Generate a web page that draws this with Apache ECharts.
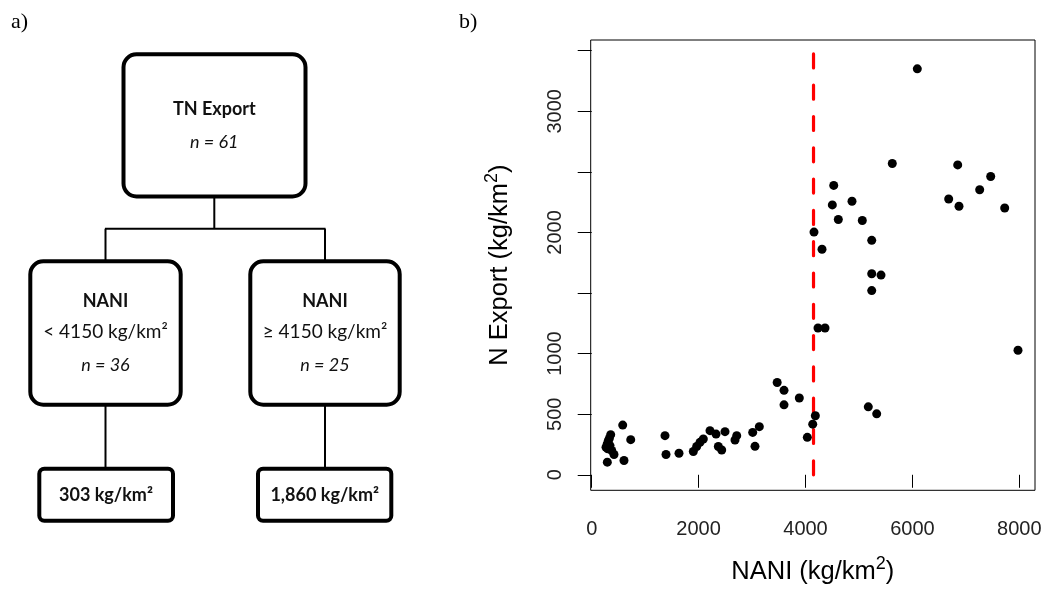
<!DOCTYPE html>
<html><head><meta charset="utf-8">
<script src="https://cdn.jsdelivr.net/npm/echarts@6/dist/echarts.min.js"></script>
<style>html,body{margin:0;padding:0;background:#fff}#c{width:1045px;height:590px}</style>
</head><body><div id="c"></div>
<script>
// ---- data (panel b scatter) ----
const naniValues = [
  355, 330, 311, 290, 268, 342, 300, 374, 417, 292,
  580, 730, 604,
  1371, 1390, 1633, 1901, 1964, 2026, 2088, 2213, 2326, 2494, 2369, 2432, 2681, 2713, 3012, 3136, 3055,
  3470, 3598, 3598, 3884, 4135, 4034,
  4184, 5175, 5332, 4234, 4365, 7976, 5239, 5239, 5413, 4309, 5239, 4159, 4614, 5063, 4502, 4870, 4528,
  6679, 6872, 7727, 7259, 7465, 5624, 6848, 6092
];
const exportValues = [
  331, 300, 282, 255, 227, 241, 215, 200, 167, 104,
  410, 290, 118,
  323, 167, 178, 192, 233, 268, 295, 364, 336, 356, 233, 205, 287, 323, 350, 397, 235,
  762, 697, 577, 634, 418, 309,
  487, 561, 503, 1211, 1211, 1028, 1520, 1659, 1648, 1861, 1935, 2003, 2107, 2098, 2227, 2257, 2388,
  2276, 2216, 2202, 2352, 2462, 2569, 2557, 3350
];
const thresholdNANI = 4150;
const thresholdExtent = [0, 3500];
const xAxisRange = [-19, 8294];
const yAxisRange = [-128, 3588];
const xTickValues = [0, 2000, 4000, 6000, 8000];
const yTickValues = [0, 500, 1000, 1500, 2000, 2500, 3000, 3500];
const yLabelValues = [0, 500, 1000, 2000, 3000];
const xAxisTitle = ['NANI (kg/km', '2', ')'];
const yAxisTitle = ['N Export (kg/km', '2', ')'];
const panelLabels = ['a)', 'b)'];

// ---- data (panel a regression tree) ----
const rootNodeText = ['TN Export', 'n = 61'];
const leftNodeText = ['NANI', '< 4150 kg/km²', 'n = 36'];
const rightNodeText = ['NANI', '≥ 4150 kg/km²', 'n = 25'];
const leafText = ['303 kg/km²', '1,860 kg/km²'];

// ---- build ----
const chart = echarts.init(document.getElementById('c'), null, {renderer: 'canvas'});
const TF = 'Lato, "Open Sans", sans-serif';
const ink = '#111';

function rect(x, y, w, h, r) {
  return {type: 'rect', shape: {x: x, y: y, width: w, height: h, r: r},
    style: {fill: '#fff', stroke: '#000', lineWidth: 4}, z: 10};
}
function seg(x1, y1, x2, y2) {
  return {type: 'line', shape: {x1: x1, y1: y1, x2: x2, y2: y2},
    style: {stroke: '#000', lineWidth: 2}, z: 5};
}
function txt(s, x, y, weight, italic, size) {
  return {type: 'text', z: 20, style: {text: s, x: x, y: y, fill: ink,
    fontFamily: TF, fontSize: size || 18, fontWeight: weight ? 'bold' : 'normal',
    fontStyle: italic ? 'italic' : 'normal', textAlign: 'center',
    textVerticalAlign: 'middle', verticalAlign: 'middle'}};
}

const L = 105.5, R = 325, RootX = 214.3;
const graphics = [
  // connectors
  seg(RootX, 198, RootX, 228.7),
  seg(L - 0.5, 228.7, R + 0.5, 228.7),
  seg(L, 228.7, L, 262), seg(R, 228.7, R, 262),
  seg(L, 405, L, 469), seg(R, 405, R, 469),
  // boxes
  rect(123.5, 54.3, 182, 142.2, 13),
  rect(30.3, 261.3, 150.4, 143.4, 13),
  rect(250.3, 261.3, 149.4, 143.4, 13),
  rect(39.3, 468.7, 133.7, 52, 5),
  rect(258, 468.7, 133.3, 52, 5),
  // texts
  txt(rootNodeText[0], RootX, 109, true, false),
  txt(rootNodeText[1], RootX, 141.7, false, true),
  txt(leftNodeText[0], L, 300.7, true, false),
  txt(leftNodeText[1], L, 331.7, false, false, 19),
  txt(leftNodeText[2], L, 365, false, true),
  txt(rightNodeText[0], R, 300.7, true, false),
  txt(rightNodeText[1], R, 331.7, false, false, 19),
  txt(rightNodeText[2], R, 365, false, true),
  txt(leafText[0], 106, 495, true, false),
  txt(leafText[1], 324.7, 495, true, false),
  // panel labels
  {type: 'text', z: 20, style: {text: panelLabels[0], x: 11, y: 22.5, fill: '#000',
    fontFamily: '"Liberation Serif", serif', fontSize: 22, textAlign: 'left',
    textVerticalAlign: 'middle', verticalAlign: 'middle'}},
  {type: 'text', z: 20, style: {text: panelLabels[1], x: 459, y: 22.5, fill: '#000',
    fontFamily: '"Liberation Serif", serif', fontSize: 22, textAlign: 'left',
    textVerticalAlign: 'middle', verticalAlign: 'middle'}}
];

const AF = '"Liberation Sans", Arial, sans-serif';
const titleRich = {
  m: {fontSize: 25.5, fontFamily: AF, color: '#000', lineHeight: 34},
  s: {fontSize: 18, fontFamily: AF, color: '#000', lineHeight: 18, verticalAlign: 'top'}
};
function richTitle(parts) { return '{m|' + parts[0] + '}{s|' + parts[1] + '}{m|' + parts[2] + '}'; }
function plain(v) { return String(v); }

const option = {
  animation: false,
  backgroundColor: '#fff',
  grid: {left: 590.7, right: 10, top: 40, bottom: 96.7, show: true,
    borderColor: '#000', borderWidth: 1, backgroundColor: 'transparent'},
  xAxis: {
    type: 'value', min: xAxisRange[0], max: xAxisRange[1],
    splitLine: {show: false},
    axisLine: {show: false},
    axisTick: {show: true, length: 13, customValues: xTickValues, lineStyle: {color: '#000', width: 1}},
    axisLabel: {customValues: xTickValues, formatter: plain, fontSize: 20, fontFamily: AF, color: '#222', margin: 29},
    name: richTitle(xAxisTitle), nameLocation: 'middle', nameGap: 64.7,
    nameTextStyle: {rich: titleRich}
  },
  yAxis: {
    type: 'value', min: yAxisRange[0], max: yAxisRange[1],
    splitLine: {show: false},
    axisLine: {show: false},
    axisTick: {show: true, length: 14, customValues: yTickValues, lineStyle: {color: '#000', width: 1}},
    axisLabel: {customValues: yLabelValues, formatter: plain, fontSize: 20, fontFamily: AF, color: '#222', margin: 25, rotate: 90},
    name: richTitle(yAxisTitle), nameLocation: 'middle', nameGap: 73.7,
    nameTextStyle: {rich: titleRich}
  },
  series: [
    {
      type: 'line',
      data: [[thresholdNANI, thresholdExtent[0]], [thresholdNANI, thresholdExtent[1]]],
      symbol: 'none',
      lineStyle: {color: '#ff0000', width: 3.2, type: [14, 17.3], cap: 'round'},
      z: 2, silent: true
    },
    {
      type: 'scatter',
      data: naniValues.map(function (x, i) { return [x, exportValues[i]]; }),
      symbol: 'circle', symbolSize: 9,
      itemStyle: {color: '#000', opacity: 1},
      z: 3
    }
  ],
  graphic: graphics
};
chart.setOption(option);
</script>
</body></html>
